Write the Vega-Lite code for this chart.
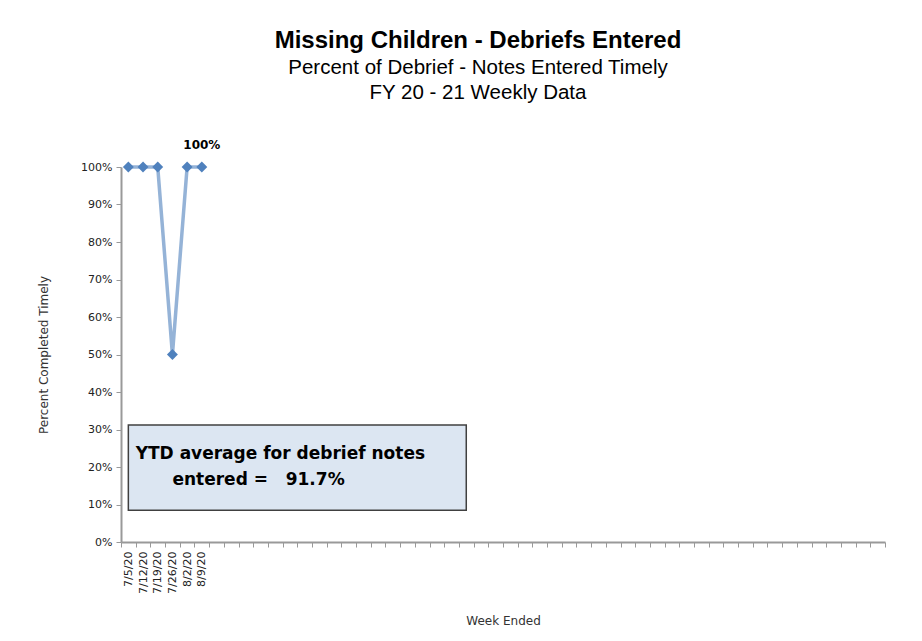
{
  "$schema": "https://vega.github.io/schema/vega-lite/v6.json",
  "width": 764,
  "height": 375,
  "autosize": {"type": "none"},
  "padding": {"left": 121, "top": 167, "right": 37, "bottom": 99},
  "background": "white",
  "config": {
    "view": {"stroke": null},
    "font": "Liberation Sans",
    "axis": {"labelOverlap": false, "grid": false},
    "axisY": {
      "titleFont": "DejaVu Sans",
      "titleFontSize": 12,
      "titleFontWeight": "normal",
      "titleColor": "#333333",
      "titlePadding": 30,
      "labelFont": "DejaVu Sans",
      "labelFontSize": 11,
      "labelColor": "#222222",
      "labelPadding": 4,
      "tickColor": "#999999",
      "tickSize": 5,
      "domainColor": "#999999",
      "domainWidth": 2,
      "format": ".0%"
    }
  },
  "title": {
    "text": "Missing Children - Debriefs Entered",
    "subtitle": ["Percent of Debrief - Notes Entered Timely", "FY 20 - 21  Weekly Data"],
    "anchor": "middle",
    "frame": "group",
    "dx": -25,
    "offset": 36,
    "font": "Liberation Sans",
    "fontSize": 24,
    "fontWeight": "bold",
    "color": "#000000",
    "subtitleFont": "Liberation Sans",
    "subtitleFontSize": 20.5,
    "subtitleColor": "#000000",
    "subtitleLineHeight": 25,
    "subtitlePadding": 5
  },
  "datasets": {
    "weekly": [
      {"week": "7/5/20", "pct": 1.0},
      {"week": "7/12/20", "pct": 1.0},
      {"week": "7/19/20", "pct": 1.0},
      {"week": "7/26/20", "pct": 0.5},
      {"week": "8/2/20", "pct": 1.0},
      {"week": "8/9/20", "pct": 1.0}
    ],
    "box": [{"start": "7/5/20", "end": "12/13/20", "low": 0.085, "high": 0.312}],
    "boxtext1": [{"week": "7/12/20", "pct": 0.235, "text": "YTD average for debrief notes"}],
    "boxtext2": [{"week": "7/26/20", "pct": 0.165, "text": "entered =\u00a0\u00a0 91.7%"}]
  },
  "encoding": {
    "x": {
      "field": "week",
      "type": "ordinal",
      "sort": null,
      "scale": {
        "type": "band",
        "paddingInner": 0,
        "paddingOuter": 0,
        "domain": ["7/5/20","7/12/20","7/19/20","7/26/20","8/2/20","8/9/20","8/16/20","8/23/20","8/30/20","9/6/20","9/13/20","9/20/20","9/27/20","10/4/20","10/11/20","10/18/20","10/25/20","11/1/20","11/8/20","11/15/20","11/22/20","11/29/20","12/6/20","12/13/20","12/20/20","12/27/20","1/3/21","1/10/21","1/17/21","1/24/21","1/31/21","2/7/21","2/14/21","2/21/21","2/28/21","3/7/21","3/14/21","3/21/21","3/28/21","4/4/21","4/11/21","4/18/21","4/25/21","5/2/21","5/9/21","5/16/21","5/23/21","5/30/21","6/6/21","6/13/21","6/20/21","6/27/21"]
      },
      "axis": {
        "title": "Week Ended",
        "titleFont": "DejaVu Sans",
        "titleFontSize": 12,
        "titleFontWeight": "normal",
        "titleColor": "#333333",
        "titleY": 78,
        "titleBaseline": "middle",
        "labelAngle": -90,
        "labelFont": "DejaVu Sans",
        "labelFontSize": 11,
        "labelColor": "#222222",
        "labelExpr": "indexof(['7/5/20','7/12/20','7/19/20','7/26/20','8/2/20','8/9/20'], datum.value) >= 0 ? datum.value : ''",
        "labelOverlap": false,
        "labelPadding": 4,
        "tickBand": "extent",
        "tickColor": "#999999",
        "tickSize": 5,
        "domainColor": "#999999",
        "domainWidth": 2,
        "grid": false
      }
    },
    "y": {
      "field": "pct",
      "type": "quantitative",
      "scale": {"domain": [0, 1], "nice": false},
      "axis": {
        "title": "Percent Completed Timely",
        "values": [0, 0.1, 0.2, 0.3, 0.4, 0.5, 0.6, 0.7, 0.8, 0.9, 1.0],
        "format": ".0%",
        "labelOverlap": false
      }
    }
  },
  "layer": [
    {
      "data": {"name": "box"},
      "mark": {"type": "rect", "fill": "#dce6f2", "stroke": "#404040", "strokeWidth": 1.5},
      "encoding": {
        "x": {"field": "start", "type": "ordinal", "sort": null},
        "x2": {"field": "end"},
        "y": {"field": "low", "type": "quantitative", "axis": {"values": [0, 0.1, 0.2, 0.3, 0.4, 0.5, 0.6, 0.7, 0.8, 0.9, 1.0], "title": "Percent Completed Timely"}},
        "y2": {"field": "high"}
      }
    },
    {
      "data": {"name": "weekly"},
      "mark": {"type": "line", "color": "#95b3d7", "strokeWidth": 3.5}
    },
    {
      "data": {"name": "weekly"},
      "mark": {"type": "point", "shape": "diamond", "filled": true, "color": "#4f81bd", "size": 120, "opacity": 1}
    },
    {
      "data": {"name": "weekly"},
      "transform": [{"filter": "datum.week === '8/9/20'"}],
      "mark": {"type": "text", "font": "DejaVu Sans", "fontSize": 12, "fontWeight": "bold", "color": "#000000", "dy": -22},
      "encoding": {
        "text": {"field": "pct", "type": "quantitative", "format": ".0%"}
      }
    },
    {
      "data": {"name": "boxtext1"},
      "mark": {"type": "text", "font": "DejaVu Sans", "fontSize": 17, "fontWeight": "bold", "color": "#000000", "align": "left", "baseline": "middle"},
      "encoding": {
        "x": {"field": "week", "type": "ordinal", "sort": null, "bandPosition": 0},
        "text": {"field": "text"}
      }
    },
    {
      "data": {"name": "boxtext2"},
      "mark": {"type": "text", "font": "DejaVu Sans", "fontSize": 17, "fontWeight": "bold", "color": "#000000", "align": "left", "baseline": "middle"},
      "encoding": {
        "text": {"field": "text"}
      }
    }
  ]
}
